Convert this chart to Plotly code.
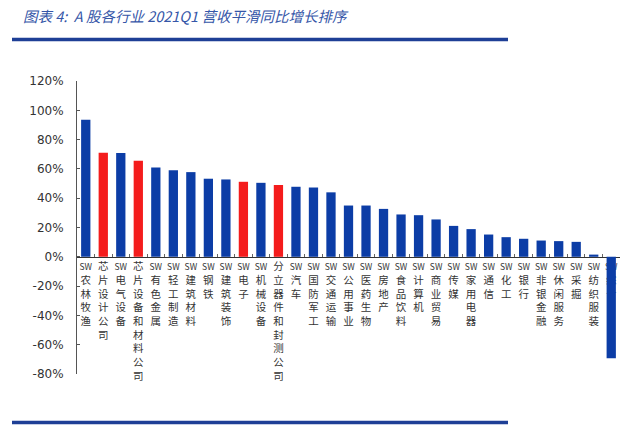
import plotly.graph_objects as go

categories = [
    "SW农林牧渔", "芯片设计公司", "SW电气设备", "芯片设备和材料公司", "SW有色金属",
    "SW轻工制造", "SW建筑材料", "SW钢铁", "SW建筑装饰", "SW电子",
    "SW机械设备", "分立器件和封测公司", "SW汽车", "SW国防军工", "SW交通运输",
    "SW公用事业", "SW医药生物", "SW房地产", "SW食品饮料", "SW计算机",
    "SW商业贸易", "SW传媒", "SW家用电器", "SW通信", "SW化工",
    "SW银行", "SW非银金融", "SW休闲服务", "SW采掘", "SW纺织服装", "SW综合",
]
values = [
    93.5, 71.0, 70.8, 65.5, 61.0,
    59.0, 57.8, 53.3, 52.8, 51.2,
    50.5, 49.0, 47.8, 47.3, 44.0,
    35.0, 35.0, 32.7, 28.9, 28.4,
    25.5, 21.1, 18.9, 15.2, 13.4,
    12.3, 11.1, 10.7, 10.2, 1.5, -69.3,
]
highlight = {"芯片设计公司", "芯片设备和材料公司", "SW电子", "分立器件和封测公司"}
y_ticks = [-80, -60, -40, -20, 0, 20, 40, 60, 80, 100, 120]

BLUE = "#0C3DA6"
RED = "#F41C1C"
colors = [RED if c in highlight else BLUE for c in categories]


def stack(label):
    if label.startswith("SW"):
        return "<span style='font-size:8.5px'>SW</span><br>" + "<br>".join(label[2:])
    return "<br>".join(label)


ticktext = [stack(c) for c in categories]

fig = go.Figure(
    go.Bar(
        x=categories,
        y=values,
        marker=dict(color=colors, line=dict(width=0)),
        hoverinfo="x+y",
    )
)

W, H = 640, 431
ml, mr, mt, mb = 77, 20, 81, 57
pw, ph = W - ml - mr, H - mt - mb


def px_x(x):
    return (x - ml) / pw


def px_y(y):
    return (H - mb - y) / ph


fig.update_layout(
    width=W,
    height=H,
    margin=dict(l=ml, r=mr, t=mt, b=mb, autoexpand=False),
    paper_bgcolor="white",
    plot_bgcolor="white",
    bargap=0.47,
    showlegend=False,
    title=dict(
        text="<i>图表 4:  A 股各行业 2021Q1 营收平滑同比增长排序</i>",
        x=23 / W,
        xref="container",
        xanchor="left",
        y=1 - 17 / H,
        yref="container",
        yanchor="middle",
        automargin=False,
        font=dict(family="Noto Sans CJK SC", size=14.5, color="#3556A8"),
    ),
    xaxis=dict(
        type="category",
        tickmode="array",
        tickvals=categories,
        ticktext=ticktext,
        tickangle=0,
        tickson="boundaries",
        ticks="inside",
        ticklen=3,
        tickcolor="#666666",
        showline=True,
        linecolor="#333333",
        linewidth=1,
        showgrid=False,
        zeroline=False,
        anchor="free",
        position=80 / 200,
        layer="below traces",
        automargin=False,
        tickfont=dict(family="Noto Sans CJK SC", size=10.5, color="#333333"),
        ticklabelstandoff=0,
    ),
    yaxis=dict(
        range=[-80, 120],
        tickmode="array",
        tickvals=y_ticks,
        ticktext=[f"{v}%" for v in y_ticks],
        ticks="inside",
        ticklen=3,
        tickcolor="#555555",
        showline=True,
        linecolor="#555555",
        linewidth=1,
        showgrid=False,
        zeroline=False,
        automargin=False,
        tickfont=dict(family="DejaVu Sans", size=12, color="#333333"),
        ticklabelstandoff=10,
    ),
    shapes=[
        dict(type="line", xref="paper", yref="paper", layer="above",
             x0=px_x(12), x1=px_x(508), y0=px_y(39.5), y1=px_y(39.5),
             line=dict(color="#1E3F96", width=3.5)),
        dict(type="line", xref="paper", yref="paper", layer="above",
             x0=px_x(12), x1=px_x(508), y0=px_y(422.5), y1=px_y(422.5),
             line=dict(color="#1E3F96", width=3.5)),
    ],
    annotations=[
        dict(text="<i>资料来源：Wind，国盛证券研究所</i>", xref="paper", yref="paper",
             x=px_x(27), y=px_y(425.5), xanchor="left", yanchor="top",
             showarrow=False,
             font=dict(family="Noto Sans CJK SC", size=13, color="#3556A8")),
    ],
)

fig.write_html(
    "out.html",
    config={"displayModeBar": False},
    post_script="document.body.style.margin='0';document.body.style.overflow='hidden';",
)
